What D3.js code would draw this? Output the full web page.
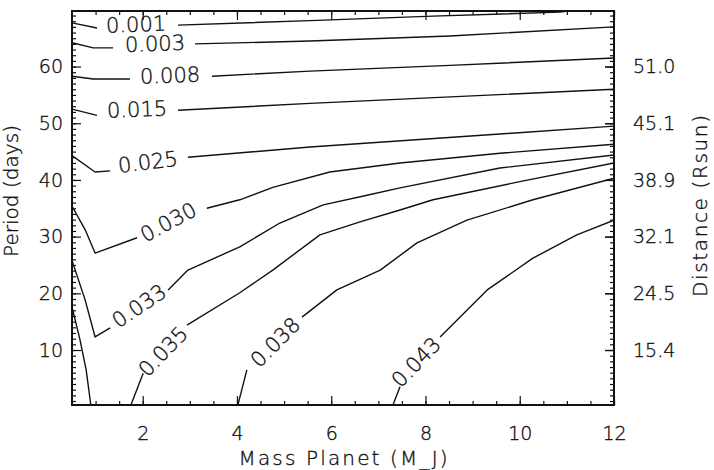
<!DOCTYPE html>
<html>
<head>
<meta charset="utf-8">
<script src="https://cdn.jsdelivr.net/npm/d3@7"></script>
<style>
  body { margin: 0; background: #fff; }
  svg { display: block; font-family: "DejaVu Sans", sans-serif; font-weight: 200; }
  svg text { fill: #111; stroke: #111; stroke-width: 0.35px; }
</style>
</head>
<body>
<div id="chart"></div>
<script>
// axis ticks
const massTicks = [2, 4, 6, 8, 10, 12];
const massMinor = d3.range(1, 12.01, 0.5);
const periodTicks = [10, 20, 30, 40, 50, 60];
const periodMinor = d3.range(1, 70, 1);
const distanceLabels = ["15.4", "24.5", "32.1", "38.9", "45.1", "51.0"];

// contour levels, each one a list of segments of [mass, period]
const levels = ["0.001", "0.003", "0.008", "0.015", "0.025", "0.030", "0.033", "0.035", "0.038", "0.043"];

const c001 = [[[0.5, 67.7], [1.03, 66.8]],
              [[2.75, 67.3], [5.55, 68.1], [8.16, 68.9], [10.85, 69.6], [11.5, 70.3]]];
const c003 = [[[0.5, 64.2], [0.95, 63.3], [1.37, 63.3]],
              [[3.11, 64.0], [5.55, 64.5], [8.52, 65.4], [12, 67.0]]];
const c008 = [[[0.5, 58.3], [0.95, 57.8], [1.73, 57.8]],
              [[3.47, 58.3], [5.55, 59.2], [8.52, 60.2], [12, 61.5]]];
const c015 = [[[0.5, 52.5], [1.03, 51.4]],
              [[2.75, 52.3], [5.55, 53.5], [12, 56.0]]];
const c025 = [[[0.5, 44.3], [0.99, 41.4], [1.31, 41.6]],
              [[2.96, 44.0], [5.55, 45.8], [9.58, 48.1], [12, 49.5]]];
const c030 = [[[0.5, 35.4], [0.78, 31.2], [0.99, 27.1], [1.88, 29.8]],
              [[3.36, 35.0], [4.06, 36.5], [4.76, 38.7], [5.97, 41.4], [7.46, 43.0], [9.58, 44.7], [12, 46.3]]];
const c033 = [[[0.5, 25.8], [0.78, 18.8], [0.99, 12.3], [1.31, 13.9]],
              [[2.54, 20.6], [2.96, 24.1], [4.06, 28.2], [4.91, 32.4], [5.83, 35.6], [6.76, 37.3], [7.46, 38.6], [9.58, 42.1], [12, 44.4]]];
const c035 = [[[0.5, 17.6], [0.67, 11.8], [0.8, 6.5], [0.9, 0.3]],
              [[1.75, 0.3], [2.01, 5.9]],
              [[2.94, 14.4], [4.06, 20.1], [4.76, 24.1], [5.76, 30.3], [6.61, 32.6], [7.46, 34.7], [8.16, 36.5], [10.0, 39.7], [12, 43.0]]];
const c038 = [[[4.02, 0.3], [4.21, 6.5]],
              [[5.38, 15.8], [6.12, 20.6], [7.04, 24.1], [7.82, 28.9], [8.88, 32.9], [10.28, 36.5], [12, 40.3]]];
const c043 = [[[7.31, 0.3], [7.46, 3.5]],
              [[8.31, 12.3], [9.31, 20.6], [10.28, 26.2], [11.21, 30.3], [12, 32.9]]];

// where each level's label sits: [mass, period, angle]
const labelAt = [[1.86, 67.5, -2], [2.26, 64.1, -2], [2.58, 58.5, -2], [1.88, 52.5, -2], [2.11, 43.2, -7],
                 [2.54, 32.6, -28], [1.92, 17.8, -34], [2.43, 9.8, -46], [4.81, 11.4, -45], [7.8, 7.9, -46]];

const contourSegs = [c001, c003, c008, c015, c025, c030, c033, c035, c038, c043];

const W = 714, H = 470;
const margin = {left: 72, right: 100, top: 11, bottom: 65};

const svg = d3.select("#chart").append("svg")
    .attr("width", W).attr("height", H);

const x = d3.scaleLinear().domain([0.5, 12]).range([margin.left, W - margin.right]);
const y = d3.scaleLinear().domain([0.3, 69.8]).range([H - margin.bottom, margin.top]);

svg.append("clipPath").attr("id", "plotclip")
  .append("rect")
    .attr("x", x(0.5)).attr("y", y(69.8))
    .attr("width", x(12) - x(0.5)).attr("height", y(0.3) - y(69.8));

const line = d3.line().x(d => x(d[0])).y(d => y(d[1]));

const gLines = svg.append("g").attr("clip-path", "url(#plotclip)");
contourSegs.forEach((segs, i) => {
  gLines.selectAll(null)
    .data(segs)
    .join("path")
      .attr("class", "c" + i)
      .attr("d", line)
      .attr("fill", "none")
      .attr("stroke", "#111")
      .attr("stroke-width", 1.4)
      .attr("stroke-linejoin", "round");
});

svg.append("g")
  .selectAll("text")
  .data(levels)
  .join("text")
    .attr("transform", (d, i) => `translate(${x(labelAt[i][0])},${y(labelAt[i][1])}) rotate(${labelAt[i][2]})`)
    .attr("text-anchor", "middle")
    .attr("dy", "0.36em")
    .style("font-size", "21px")
    .text(d => d);

// ticks (inward) on all four sides
function ticksOnly(axis, vals, size) {
  return axis.tickValues(vals).tickSizeInner(-size).tickSizeOuter(0).tickFormat("");
}
const bottomY = y(0.3), topY = y(69.8), leftX = x(0.5), rightX = x(12);

svg.append("g").attr("transform", `translate(0,${bottomY})`).call(ticksOnly(d3.axisBottom(x), massMinor, 4));
svg.append("g").attr("transform", `translate(0,${topY})`).call(ticksOnly(d3.axisTop(x), massMinor, 4));
svg.append("g").attr("transform", `translate(${leftX},0)`).call(ticksOnly(d3.axisLeft(y), periodMinor, 4));
svg.append("g").attr("transform", `translate(${rightX},0)`).call(ticksOnly(d3.axisRight(y), periodMinor, 4));

svg.append("g").attr("transform", `translate(0,${topY})`).call(ticksOnly(d3.axisTop(x), massTicks, 9));
svg.append("g").attr("transform", `translate(${rightX},0)`).call(ticksOnly(d3.axisRight(y), periodTicks, 9));

svg.append("g").attr("class", "xaxis").attr("transform", `translate(0,${bottomY})`)
  .call(d3.axisBottom(x).tickValues(massTicks).tickSizeInner(-9).tickSizeOuter(0).tickPadding(22));
svg.append("g").attr("class", "yaxis").attr("transform", `translate(${leftX},0)`)
  .call(d3.axisLeft(y).tickValues(periodTicks).tickSizeInner(-9).tickSizeOuter(0).tickPadding(9));
svg.append("g").attr("class", "raxis").attr("transform", `translate(${rightX},0)`)
  .call(d3.axisRight(y).tickValues(periodTicks).tickSizeInner(-9).tickSizeOuter(0).tickPadding(19)
    .tickFormat((d, i) => distanceLabels[i]));

svg.selectAll(".domain").remove();
svg.selectAll(".tick line").attr("stroke", "#111").attr("stroke-width", 1.2);
svg.selectAll(".tick text").style("font-size", "19px").attr("fill", null);
svg.selectAll("g[font-family]").attr("font-family", null).attr("font-size", null);

// frame
svg.append("rect")
    .attr("x", leftX).attr("y", topY)
    .attr("width", rightX - leftX).attr("height", bottomY - topY)
    .attr("fill", "none").attr("stroke", "#111").attr("stroke-width", 2);

// axis titles
svg.append("text")
    .attr("x", (leftX + rightX) / 2).attr("y", 465)
    .attr("text-anchor", "middle")
    .attr("textLength", 209).attr("lengthAdjust", "spacing")
    .style("font-size", "20px")
    .text("Mass Planet (M_J)");

svg.append("text")
    .attr("transform", `translate(18,${(topY + bottomY) / 2 - 17}) rotate(-90)`)
    .attr("text-anchor", "middle")
    .attr("textLength", 132).attr("lengthAdjust", "spacing")
    .style("font-size", "20px")
    .text("Period (days)");

svg.append("text")
    .attr("transform", `translate(707,206) rotate(-90)`)
    .attr("text-anchor", "middle")
    .attr("textLength", 182).attr("lengthAdjust", "spacing")
    .style("font-size", "20px")
    .text("Distance (Rsun)");
</script>
</body>
</html>
